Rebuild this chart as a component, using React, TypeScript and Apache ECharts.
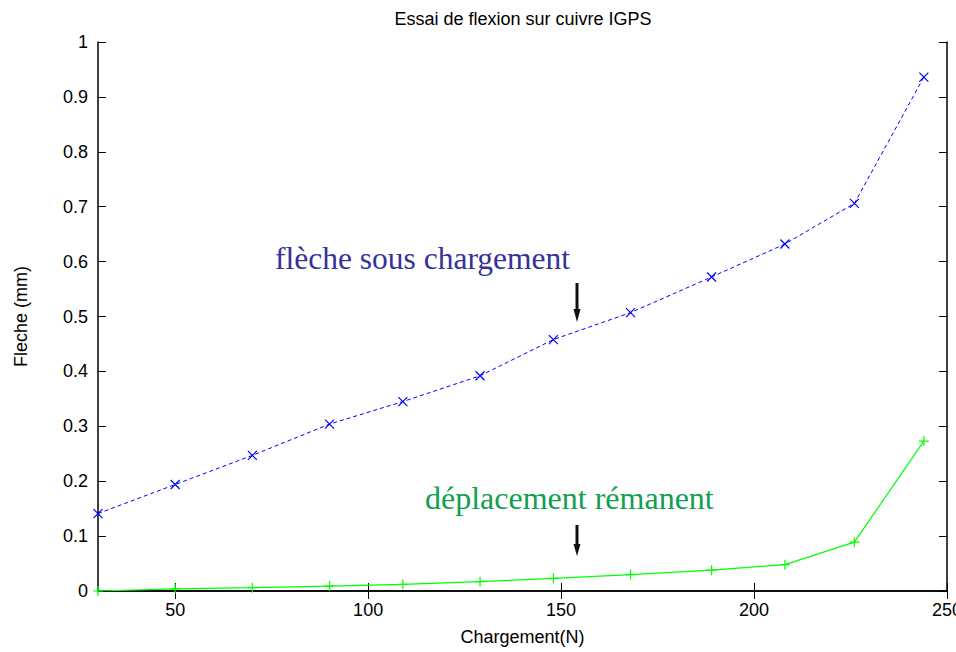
import React, { useEffect, useRef } from "react";
import * as echarts from "echarts";

const loads = [30, 50, 70, 90, 109, 129, 148, 168, 189, 208, 226, 244];
const flecheSousCharge = [0.141, 0.194, 0.247, 0.304, 0.345, 0.392, 0.458, 0.507, 0.572, 0.632, 0.706, 0.936];
const deplacementRemanent = [0, 0.004, 0.006, 0.009, 0.012, 0.017, 0.023, 0.03, 0.038, 0.048, 0.089, 0.273];
const xTicks = [50, 100, 150, 200, 250];

const FONT = "'Liberation Sans', Arial, Helvetica, sans-serif";
const SERIF = "'Liberation Serif', 'Times New Roman', serif";

export default function App() {
  const ref = useRef<HTMLDivElement>(null);
  useEffect(() => {
    document.body.style.margin = "0";
    if (!ref.current) return;
    const chart = echarts.init(ref.current, undefined, { renderer: "svg" });
    const axisLine = { show: true, lineStyle: { color: "#000", width: 1.5 } };
    const tick = { show: true, inside: true, length: 8, lineStyle: { color: "#000", width: 1 } };
    chart.setOption({
      animation: false,
      backgroundColor: "#fff",
      title: {
        text: "Essai de flexion sur cuivre IGPS",
        left: 518,
        textAlign: "center",
        top: 5,
        textStyle: { fontFamily: FONT, fontSize: 18, fontWeight: "normal", color: "#000" },
      },
      grid: { left: 98, right: 9, top: 42, bottom: 61, containLabel: false, outerBoundsMode: "none" },
      xAxis: [
        {
          type: "value",
          min: 30,
          max: 250,
          position: "bottom",
          name: "Chargement(N)",
          nameLocation: "middle",
          nameGap: 37,
          nameTextStyle: { fontFamily: FONT, fontSize: 18, color: "#000" },
          axisLine,
          axisTick: { ...tick, customValues: xTicks },
          axisLabel: { customValues: xTicks, fontFamily: FONT, fontSize: 18, color: "#000", margin: 10 },
          splitLine: { show: false },
        },
        {
          type: "value",
          min: 30,
          max: 250,
          position: "top",
          axisLine,
          axisTick: { ...tick, customValues: xTicks },
          axisLabel: { show: false, customValues: xTicks },
          splitLine: { show: false },
        },
      ],
      yAxis: [
        {
          type: "value",
          min: 0,
          max: 1,
          interval: 0.1,
          position: "left",
          name: "Fleche (mm)",
          nameLocation: "middle",
          nameGap: 68,
          nameRotate: 90,
          nameTextStyle: { fontFamily: FONT, fontSize: 18, color: "#000" },
          axisLine,
          axisTick: tick,
          axisLabel: { fontFamily: FONT, fontSize: 18, color: "#000", margin: 10 },
          splitLine: { show: false },
        },
        {
          type: "value",
          min: 0,
          max: 1,
          interval: 0.1,
          position: "right",
          axisLine,
          axisTick: tick,
          axisLabel: { show: false },
          splitLine: { show: false },
        },
      ],
      series: [
        {
          type: "line",
          data: loads.map((x, i) => [x, flecheSousCharge[i]]),
          symbol: "path://M0 0L10 10M10 0L0 10",
          symbolSize: 9,
          showSymbol: true,
          lineStyle: { color: "#0000ff", width: 1, type: [4, 3] },
          itemStyle: { color: "none", borderColor: "#0000ff", borderWidth: 1.2 },
          z: 3,
        },
        {
          type: "line",
          data: loads.map((x, i) => [x, deplacementRemanent[i]]),
          symbol: "path://M5 0L5 10M0 5L10 5",
          symbolSize: 10,
          showSymbol: true,
          lineStyle: { color: "#00ff00", width: 1.2 },
          itemStyle: { color: "none", borderColor: "#00ff00", borderWidth: 1.2 },
          z: 3,
        },
      ],
      graphic: [
        {
          type: "text",
          left: 275,
          top: 242,
          style: { text: "flèche sous chargement", fontFamily: SERIF, fontSize: 31.5, fill: "#333399" },
        },
        {
          type: "text",
          left: 425,
          top: 482,
          style: { text: "déplacement rémanent", fontFamily: SERIF, fontSize: 32, fill: "#10a050" },
        },
        { type: "line", shape: { x1: 577, y1: 283, x2: 577, y2: 312 }, style: { stroke: "#111", lineWidth: 3 } },
        { type: "polygon", shape: { points: [[573.5, 309], [580.5, 309], [577, 322]] }, style: { fill: "#111" } },
        { type: "line", shape: { x1: 577, y1: 525, x2: 577, y2: 547 }, style: { stroke: "#111", lineWidth: 3 } },
        { type: "polygon", shape: { points: [[573.5, 544], [580.5, 544], [577, 556]] }, style: { fill: "#111" } },
      ],
    });
    return () => chart.dispose();
  }, []);
  return <div ref={ref} style={{ width: 956, height: 652 }} />;
}
